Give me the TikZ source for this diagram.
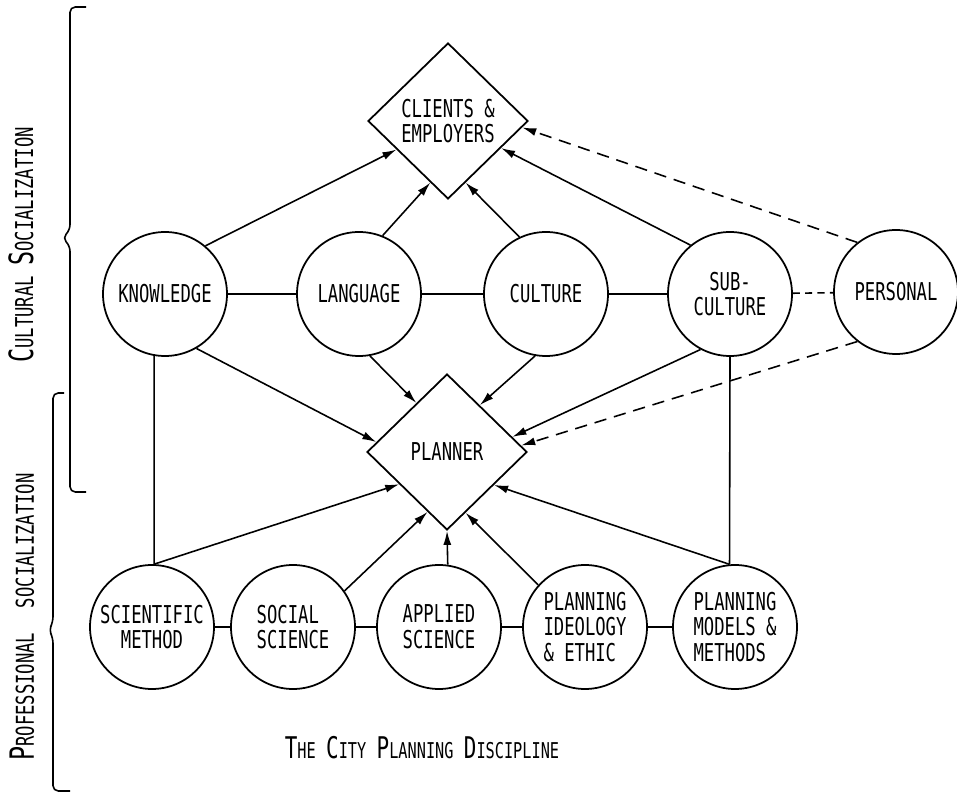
\documentclass[tikz,border=0pt]{standalone}
\usepackage{fontspec}
\newfontfamily\handfont[FakeStretch=0.7]{DejaVu Sans Mono}
\usetikzlibrary{shapes.geometric,arrows.meta}
\newcommand\bigletter[1]{{\fontsize{17}{17}\selectfont #1}}
\newcommand\smallletters[1]{{\fontsize{12.4}{14}\selectfont #1}}
\newcommand\capword[2]{\bigletter{#1}\smallletters{#2}}
\newcommand\sidecap[2]{{\fontsize{19}{19}\selectfont #1}{\fontsize{14}{14}\selectfont #2}}

\begin{document}
\begin{tikzpicture}[
    font=\handfont\fontsize{14}{14.6}\selectfont,
    circ/.style={draw, circle, line width=1pt, minimum size=2.48cm, inner sep=0pt, align=center},
    diam/.style={draw, diamond, line width=1pt, minimum width=3.2cm, minimum height=3.12cm, inner sep=0pt, align=center},
    link/.style={line width=0.9pt},
    arr/.style={line width=0.9pt, -{Latex[length=2.8mm,width=1.6mm]}},
    longdash/.style={dash pattern=on 7pt off 4.5pt},
    shortdash/.style={dash pattern=on 4pt off 3pt}
  ]
  \useasboundingbox (0,0) rectangle (19.14,15.88);

  % the two diamonds
  \node[diam] (clients) at (8.96,13.46) {CLIENTS \&\\EMPLOYERS};
  \node[diam] (planner) at (8.94,6.84) {PLANNER};

  % cultural row
  \node[circ] (knowledge) at (3.30,10.00) {KNOWLEDGE};
  \node[circ] (language) at (7.18,10.00) {LANGUAGE};
  \node[circ] (culture) at (10.92,10.00) {CULTURE};
  \node[circ] (subculture) at (14.60,10.00) {SUB-\\CULTURE};
  \node[circ] (personal) at (17.92,10.04) {PERSONAL};

  % professional row
  \node[circ] (scientific) at (3.04,3.34) {SCIENTIFIC\\METHOD};
  \node[circ, align=left] (social) at (5.86,3.34) {SOCIAL\\SCIENCE};
  \node[circ, align=left] (applied) at (8.78,3.34) {APPLIED\\SCIENCE};
  \node[circ, align=left] (ideology) at (11.70,3.34) {PLANNING\\IDEOLOGY\\\& ETHIC};
  \node[circ, align=left] (models) at (14.70,3.34) {PLANNING\\MODELS \&\\METHODS};

  \node (title) at (8.44,0.92) {\capword{T}{HE} \capword{C}{ITY} \capword{P}{LANNING} \capword{D}{ISCIPLINE}};

  % side labels and braces
  \node[rotate=90] (cultlabel) at (0.42,10.98) {\sidecap{C}{ULTURAL} \sidecap{S}{OCIALIZATION}};
  \node[rotate=90] (proflabel) at (0.44,3.54) {\sidecap{P}{ROFESSIONAL}\quad\sidecap{}{SOCIALIZATION}};
  \draw[line width=0.9pt, rounded corners=3pt] (1.72,15.74) -- (1.40,15.74) -- (1.40,11.28)
    -- (1.25,11.12) -- (1.40,10.96) -- (1.40,6.04) -- (1.72,6.04);
  \draw[line width=0.9pt, rounded corners=3pt] (1.28,8.02) -- (1.06,8.02) -- (1.06,3.44)
    -- (0.98,3.28) -- (1.06,3.12) -- (1.06,0.06) -- (1.40,0.06);

  % links in the rows
  \draw[link] (knowledge) -- (language);
  \draw[link] (language) -- (culture);
  \draw[link] (culture) -- (subculture);
  \draw[link, shortdash] (subculture) -- (personal);
  \draw[link] (scientific) -- (social);
  \draw[link] (social) -- (applied);
  \draw[link] (applied) -- (ideology);
  \draw[link] (ideology) -- (models);
  \draw[link] (knowledge.260) -- (scientific.88);
  \draw[link] (subculture.270) -- (models.95);

  % into clients & employers
  \draw[arr] (knowledge.50) -- (clients.209);
  \draw[arr] (language.68) -- (clients.254);
  \draw[arr] (culture.115) -- (clients.286);
  \draw[arr] (subculture.129) -- (clients.333);
  \draw[arr, longdash] (personal.128) -- (clients.355);

  % into planner
  \draw[arr] (knowledge.300) -- (planner.172);
  \draw[arr] (language.280) -- (planner.122);
  \draw[arr] (culture.260) -- (planner.55);
  \draw[arr] (subculture.242) -- (planner.13);
  \draw[arr, longdash] (personal.232) -- (planner.5);
  \draw[arr] (scientific.88) -- (planner.214);
  \draw[arr] (social.35) -- (planner.252);
  \draw[arr] (applied.82) -- (planner.270);
  \draw[arr] (ideology.138) -- (planner.287);
  \draw[arr] (models.95) -- (planner.325);
\end{tikzpicture}
\end{document}
